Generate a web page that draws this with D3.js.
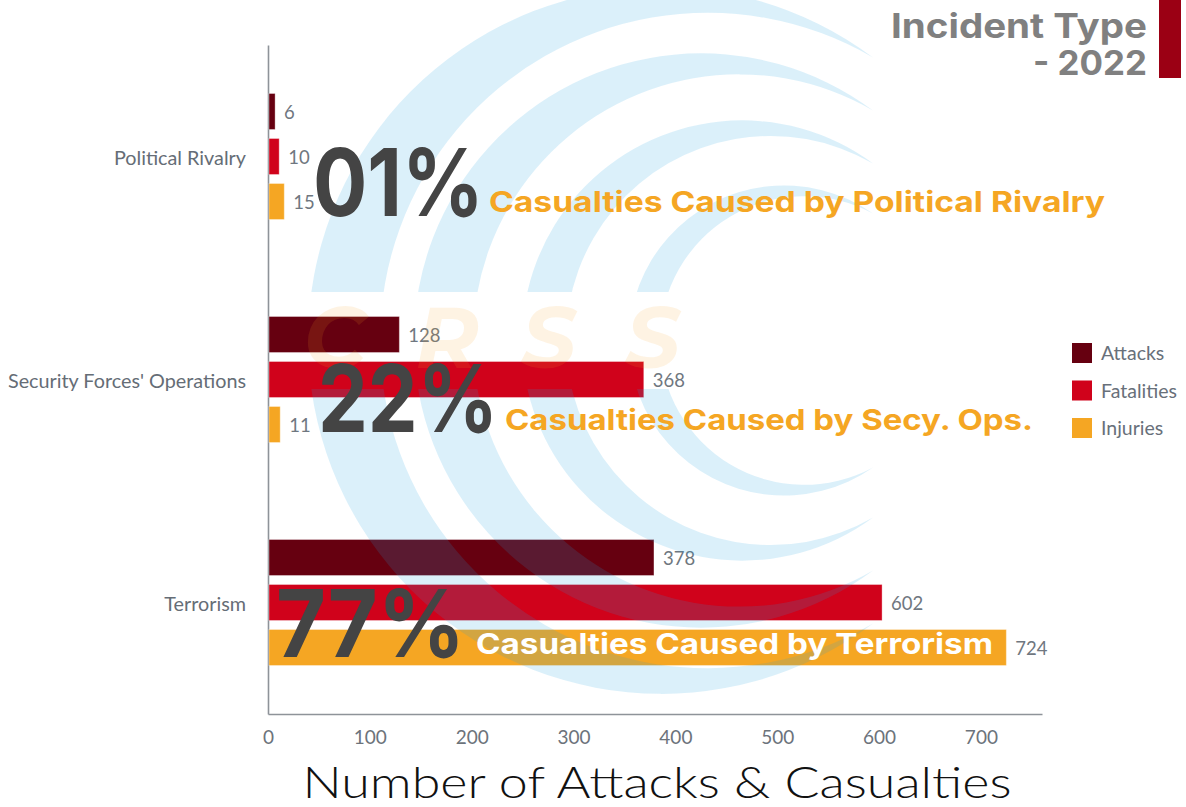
<!DOCTYPE html>
<html>
<head>
<meta charset="utf-8">
<script src="https://cdn.jsdelivr.net/npm/d3@7"></script>
<style>
  html, body { margin: 0; padding: 0; background: #ffffff; }
  svg { display: block; }
</style>
</head>
<body>
<div id="chart"></div>
<script>
// ---------------- DATA ----------------
const categories = ["Political Rivalry", "Security Forces' Operations", "Terrorism"];
const seriesNames = ["Attacks", "Fatalities", "Injuries"];
const attacks = [6, 128, 378];
const fatalities = [10, 368, 602];
const injuries = [15, 11, 724];
const xTicks = [0, 100, 200, 300, 400, 500, 600, 700];
const shareLabels = ["01%", "22%", "77%"];
const shareTexts = ["Casualties Caused by Political Rivalry", "Casualties Caused by Secy. Ops.", "Casualties Caused by Terrorism"];
const titleLines = ["Incident Type", "- 2022"];
const xTitle = "Number of Attacks & Casualties";
const seriesColors = ["#660010", "#d0021b", "#f5a623"];

// ---------------- LAYOUT ----------------
const W = 1186, H = 807;
const svg = d3.select("#chart").append("svg").attr("width", W).attr("height", H);

const x = d3.scaleLinear().domain([0, 760]).range([268, 1042]);
const y = d3.scaleBand().domain(categories).range([45, 714]).padding(0);
const inner = d3.scaleBand().domain(seriesNames)
  .range([y.bandwidth() / 2 - 67.5, y.bandwidth() / 2 + 67.5])
  .paddingInner(0.2).paddingOuter(0.1);
const color = d3.scaleOrdinal().domain(seriesNames).range(seriesColors);

const seriesValues = [attacks, fatalities, injuries];
const rows = [];
categories.forEach((c, ci) => {
  seriesNames.forEach((s, si) => rows.push({ cat: c, ci, series: s, value: seriesValues[si][ci] }));
});

// axes
const gx = svg.append("g").attr("transform", `translate(0,714)`)
  .call(d3.axisBottom(x).tickValues(xTicks).tickSize(0).tickSizeOuter(0).tickPadding(17));
gx.select(".domain").attr("stroke", "#8e9399").attr("stroke-width", 1.6);
gx.selectAll(".tick text").attr("font-family", "Lato, sans-serif").attr("font-size", 19)
  .attr("fill", "#6c737b");

const gy = svg.append("g").attr("transform", `translate(268,0)`)
  .call(d3.axisLeft(y).tickSize(0).tickSizeOuter(0).tickPadding(22));
gy.select(".domain").attr("stroke", "#8e9399").attr("stroke-width", 1.6);
gy.selectAll(".tick text").attr("font-family", "Lato, sans-serif").attr("font-size", 19.8)
  .attr("fill", "#656d76").attr("dy", "0.42em");

// bars
svg.append("g").selectAll("rect").data(rows).join("rect")
  .attr("x", x(0) + 1)
  .attr("y", d => y(d.cat) + inner(d.series))
  .attr("width", d => x(d.value) - x(0))
  .attr("height", inner.bandwidth())
  .attr("fill", d => color(d.series))
  .attr("stroke", "rgba(255,255,255,0.35)")
  .attr("stroke-width", 1);

// value labels
svg.append("g").selectAll("text").data(rows).join("text")
  .attr("x", d => x(d.value) + 10)
  .attr("y", d => y(d.cat) + inner(d.series) + inner.bandwidth() / 2)
  .attr("dy", "0.42em")
  .attr("font-family", "Lato, sans-serif").attr("font-size", 18.5)
  .attr("fill", "#6f7780")
  .text(d => d.value);

// ---------------- WATERMARK (overlay) ----------------
const wmCy = 340.5, gapTop = 292, gapBot = 389;
const defs = svg.append("defs");
const clip = defs.append("clipPath").attr("id", "wmclip");
clip.append("rect").attr("x", 0).attr("y", 0).attr("width", W).attr("height", gapTop);
clip.append("rect").attr("x", 0).attr("y", gapBot).attr("width", W).attr("height", H - gapBot);

const crescents = [
  { ol: 308, il: 380, tip: 873, d: 283 },
  { ol: 414, il: 473, tip: 873, d: 230 },
  { ol: 522, il: 566, tip: 873, d: 177 },
  { ol: 629, il: 660, tip: 873, d: 127 }
];
function crescentPath(c) {
  const ro = ((c.tip - c.ol) ** 2 + c.d * c.d) / (2 * (c.tip - c.ol));
  const ri = ((c.tip - c.il) ** 2 + c.d * c.d) / (2 * (c.tip - c.il));
  const lo = c.tip > c.ol + ro ? 1 : 0;
  const li = c.tip > c.il + ri ? 1 : 0;
  return `M${c.tip},${wmCy - c.d} A${ro},${ro} 0 ${lo} 0 ${c.tip},${wmCy + c.d} ` +
         `A${ri},${ri} 0 ${li} 1 ${c.tip},${wmCy - c.d} Z`;
}
const wm = svg.append("g").attr("clip-path", "url(#wmclip)");
wm.selectAll("path").data(crescents).join("path")
  .attr("d", crescentPath)
  .attr("fill", "#1fa3e0").attr("fill-opacity", 0.16);

const wmLetters = [["C", 335], ["R", 447], ["S", 549], ["S", 653]];
svg.append("g").selectAll("text").data(wmLetters).join("text")
  .attr("x", d => d[1]).attr("y", 368)
  .attr("text-anchor", "middle")
  .attr("font-family", "Montserrat, 'Open Sans', sans-serif")
  .attr("font-weight", 700).attr("font-style", "italic").attr("font-size", 86)
  .attr("fill", "#f5a623").attr("fill-opacity", 0.13)
  .text(d => d[0]);

// ---------------- ANNOTATIONS ----------------
const ann = [
  { px: 313, pw: 171, py: 216, tx: 489, tw: 616, ty: 212, tc: "#f5a623" },
  { px: 318, pw: 180, py: 432, tx: 505, tw: 528, ty: 430, tc: "#f5a623" },
  { px: 276, pw: 189, py: 657, tx: 476, tw: 517, ty: 654, tc: "#ffffff" }
];
const ga = svg.append("g");
ann.forEach((a, i) => {
  ga.append("text").attr("x", a.px).attr("y", a.py)
    .attr("font-family", "Inter, 'Open Sans', sans-serif").attr("font-weight", 700)
    .attr("font-size", 94).attr("fill", "#444444")
    .attr("textLength", a.pw).attr("lengthAdjust", "spacingAndGlyphs")
    .text(shareLabels[i]);
  ga.append("text").attr("x", a.tx).attr("y", a.ty)
    .attr("font-family", "Inter, 'Open Sans', sans-serif").attr("font-weight", 700)
    .attr("font-size", 29).attr("fill", a.tc)
    .attr("textLength", a.tw).attr("lengthAdjust", "spacingAndGlyphs")
    .text(shareTexts[i]);
});

// ---------------- LEGEND ----------------
const lg = svg.append("g").attr("transform", "translate(1072,343)");
const li = lg.selectAll("g").data(seriesNames).join("g")
  .attr("transform", (d, i) => `translate(0,${i * 37.5})`);
li.append("rect").attr("width", 20).attr("height", 20).attr("fill", d => color(d));
li.append("text").attr("x", 29).attr("y", 10).attr("dy", "0.38em")
  .attr("font-family", "Lato, sans-serif").attr("font-size", 19.5).attr("fill", "#68707a")
  .text(d => d);

// ---------------- TITLE ----------------
svg.append("rect").attr("x", 1159).attr("y", 0).attr("width", 22).attr("height", 78).attr("fill", "#9b0014");
const titleWidths = [256, 114];
svg.append("g").selectAll("text").data(titleLines).join("text")
  .attr("x", 1147).attr("y", (d, i) => 38 + i * 37)
  .attr("text-anchor", "end")
  .attr("font-family", "Inter, 'Open Sans', sans-serif").attr("font-weight", 700)
  .attr("font-size", 34).attr("fill", "#808080")
  .attr("textLength", (d, i) => titleWidths[i]).attr("lengthAdjust", "spacingAndGlyphs")
  .text(d => d);

// x-axis title
svg.append("text").attr("x", 657).attr("y", 798).attr("text-anchor", "middle")
  .attr("font-family", "Lato, sans-serif").attr("font-weight", 300).attr("font-size", 44)
  .attr("fill", "#111111")
  .attr("textLength", 709).attr("lengthAdjust", "spacingAndGlyphs")
  .text(xTitle);
</script>
</body>
</html>
